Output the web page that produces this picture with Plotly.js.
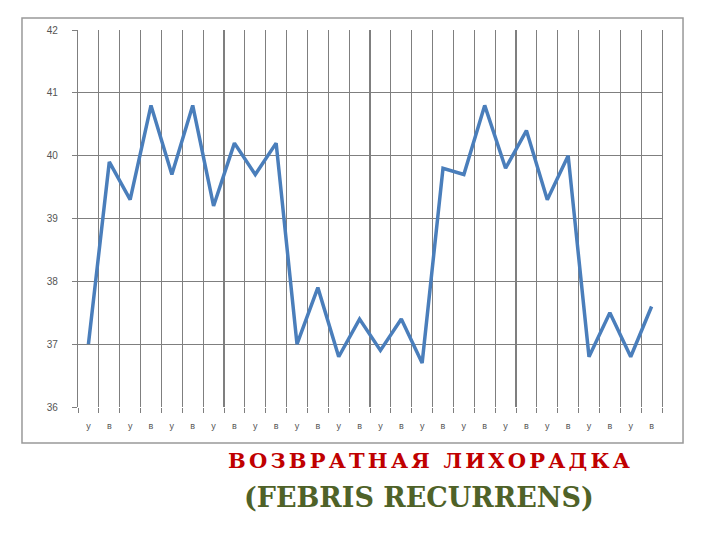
<!DOCTYPE html>
<html><head><meta charset="utf-8">
<script src="https://cdn.plot.ly/plotly-3.0.1.min.js"></script>
<style>body{margin:0;background:#fff}#c{width:720px;height:540px}
g.annotation[data-index="0"] text{letter-spacing:3.2px}</style>
</head><body><div id="c"></div>
<script>
const labels = ["у","в","у","в","у","в","у","в","у","в","у","в","у","в","у","в","у","в","у","в","у","в","у","в","у","в","у","в"];
const temps = [37.0,39.9,39.3,40.8,39.7,40.8,39.2,40.2,39.7,40.2,37.0,37.9,36.8,37.4,36.9,37.4,36.7,39.8,39.7,40.8,39.8,40.4,39.3,40.0,36.8,37.5,36.8,37.6];
const yTicks = [36,37,38,39,40,41,42];
const titleRu = "ВОЗВРАТНАЯ ЛИХОРАДКА";
const titleLat = "(FEBRIS RECURRENS)";

const idx = labels.map((_, i) => i);
const grid = '#7f7f7f';

Plotly.newPlot('c', [{
  x: idx, y: temps, type: 'scatter', mode: 'lines',
  line: {color: '#4a7ebb', width: 3.5},
  hoverinfo: 'skip'
}], {
  width: 720, height: 540,
  margin: {l: 78, r: 58, t: 30, b: 133},
  paper_bgcolor: '#fff', plot_bgcolor: '#fff',
  showlegend: false,
  xaxis: {
    range: [-0.5, labels.length - 0.5],
    tickmode: 'array', tickvals: idx, ticktext: labels,
    showgrid: false, zeroline: false,
    ticks: '', ticklen: 0, ticklabelstandoff: 12,
    tickfont: {family: 'Liberation Sans, Arial, sans-serif', size: 9, color: '#555'},
    showline: false,
    minor: {tick0: -0.5, dtick: 1, showgrid: true, gridcolor: grid, gridwidth: 1.2,
            ticks: 'outside', ticklen: 5, tickcolor: grid}
  },
  yaxis: {
    range: [36, 42], tickmode: 'array', tickvals: yTicks,
    showgrid: true, gridcolor: grid, gridwidth: 1.2, zeroline: false,
    ticks: 'outside', ticklen: 5, tickcolor: grid, ticklabelstandoff: 12,
    tickfont: {family: 'Liberation Sans, Arial, sans-serif', size: 10, color: '#555'},
    showline: true, linecolor: grid, linewidth: 1.2, mirror: true
  },
  shapes: [{
    type: 'rect', xref: 'paper', yref: 'paper',
    x0: -0.0959, x1: 1.036, y0: -0.0955, y1: 1.0318,
    line: {color: '#999', width: 1.5}
  }],
  annotations: [
    {text: '<b>' + titleRu + '</b>', xref: 'paper', yref: 'paper', x: 0.603, y: -0.143,
     xanchor: 'center', yanchor: 'middle', showarrow: false,
     font: {family: 'DejaVu Serif, serif', size: 21, color: '#c00000'}},
    {text: '<b>' + titleLat + '</b>', xref: 'paper', yref: 'paper', x: 0.584, y: -0.241,
     xanchor: 'center', yanchor: 'middle', showarrow: false,
     font: {family: 'DejaVu Serif, serif', size: 27, color: '#4f6228'}}
  ]
}, {displayModeBar: false, staticPlot: true});
</script></body></html>
